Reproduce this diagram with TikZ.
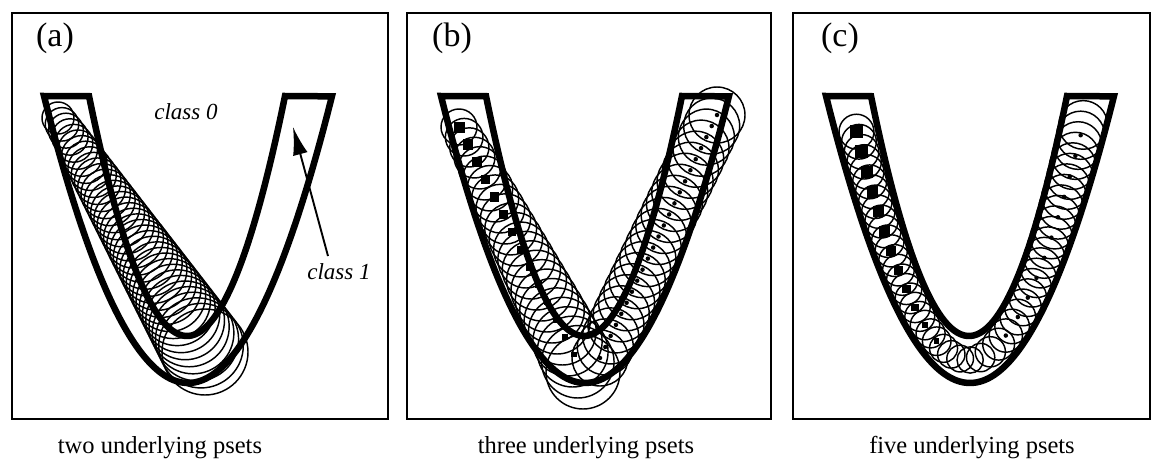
\documentclass[tikz,border=0pt]{standalone}
\usepackage{fontspec}
\setmainfont{Liberation Serif}
\usetikzlibrary{arrows.meta}
\newcommand\drawVband{%
  \draw[vband] plot[domain=-1:1, samples=70, smooth] ({188+144*\x},{383-287*\x*\x})
    -- plot[domain=1:-1, samples=60, smooth] ({187+98*\x},{336-240*\x*\x}) -- cycle;}
\begin{document}
\begin{tikzpicture}[x=1pt,y=-1pt,
  panelframe/.style={line width=1.8pt},
  vband/.style={line width=6.5pt, line join=miter},
  circ/.style={line width=1.45pt},
  sq/.style={fill=black, draw=none, inner sep=0pt, minimum size=#1},
  dotmark/.style={fill=black, draw=none, circle, inner sep=0pt, minimum size=#1},
  panellabel/.style={font=\fontsize{34}{34}\selectfont, inner sep=0pt},
  captext/.style={font=\fontsize{24.5}{24.5}\selectfont, inner sep=0pt, anchor=base},
  classtext/.style={font=\fontsize{23}{23}\selectfont\itshape, inner sep=0pt},
  arrowline/.style={line width=1.9pt, -{Latex[length=28pt,width=15pt]}}]
\useasboundingbox (0,0) rectangle (1152,463);
\fill[white] (0,0) rectangle (1152,463);

% ---------- frames ----------
\draw[panelframe] (12,13) rectangle (388,419);
\draw[panelframe] (407,13) rectangle (771,419);
\draw[panelframe] (793,13) rectangle (1150,419);

% ---------- panel (a) ----------
\foreach \i in {0,...,37}{
  \pgfmathsetmacro\tt{\i/37}
  \pgfmathsetmacro\rr{16+27*\tt}
  \draw[circ] ({58+147*\tt},{118+234*\tt}) circle[radius=\rr pt];
}
\drawVband
\node[panellabel] (la) at (55,38) {(a)};
\node[classtext] (c0) at (186,112) {class 0};
\node[classtext] (c1) at (339,272) {class 1};
\coordinate (c1from) at (328,256);
\coordinate (c1tip) at (293,127);
\draw[arrowline] (c1from) -- (c1tip);
\node[captext] (ca) at (160,453) {two underlying psets};

% ---------- panel (b) ----------
\begin{scope}[xshift=397pt]
\foreach \i in {0,...,24}{
  \pgfmathsetmacro\tt{\i/24}
  \pgfmathsetmacro\rr{18+19*\tt}
  \draw[circ] ({62+124*\tt},{127+245*\tt}) circle[radius=\rr pt];
}
\foreach \i in {0,...,22}{
  \pgfmathsetmacro\tt{\i/22}
  \draw[circ] ({203+117*\tt},{358-243*\tt}) circle[radius=28pt];
  \node[dotmark=4.5pt] at ({203+117*\tt},{358-243*\tt}) {};
}
\foreach \i in {0,...,13}{
  \pgfmathsetmacro\tt{\i/14}
  \pgfmathsetmacro\ss{11-6*\tt}
  \node[sq=\ss pt] at ({62+124*\tt},{127+245*\tt}) {};
}
\drawVband
\node[panellabel] (lb) at (55,38) {(b)};
\end{scope}
\node[captext] (cb) at (586,453) {three underlying psets};

% ---------- panel (c) ----------
\begin{scope}[xshift=782pt]
\gdef\ucur{-0.93}
\foreach \i in {0,...,70}{
  \pgfmathsetmacro\uu{\ucur}
  \ifdim\uu pt<0.945pt
    \pgfmathsetmacro\cx{187+121*\uu}
    \pgfmathsetmacro\cy{360-264*\uu*\uu}
    \pgfmathsetmacro\rr{(\uu<0) ? (13-4.8*\uu) : (13+12*\uu)}
    \draw[circ] (\cx,\cy) circle[radius=\rr pt];
    \ifodd\i\else
      \ifdim\uu pt<-0.22pt
        \pgfmathsetmacro\ss{5+11.5*(-\uu-0.22)}
        \node[sq=\ss pt] at (\cx,\cy) {};
      \fi
      \ifdim\uu pt>0.2pt
        \node[dotmark=4.5pt] at (\cx,\cy) {};
      \fi
    \fi
  \fi
  \pgfmathsetmacro\unext{\uu+10.5/(121*sqrt(1+(4.364*\uu)^2))}
  \xdef\ucur{\unext}
}
\drawVband
\node[panellabel] (lc) at (58,38) {(c)};
\end{scope}
\node[captext] (cc) at (972,453) {five underlying psets};
\end{tikzpicture}
\end{document}
